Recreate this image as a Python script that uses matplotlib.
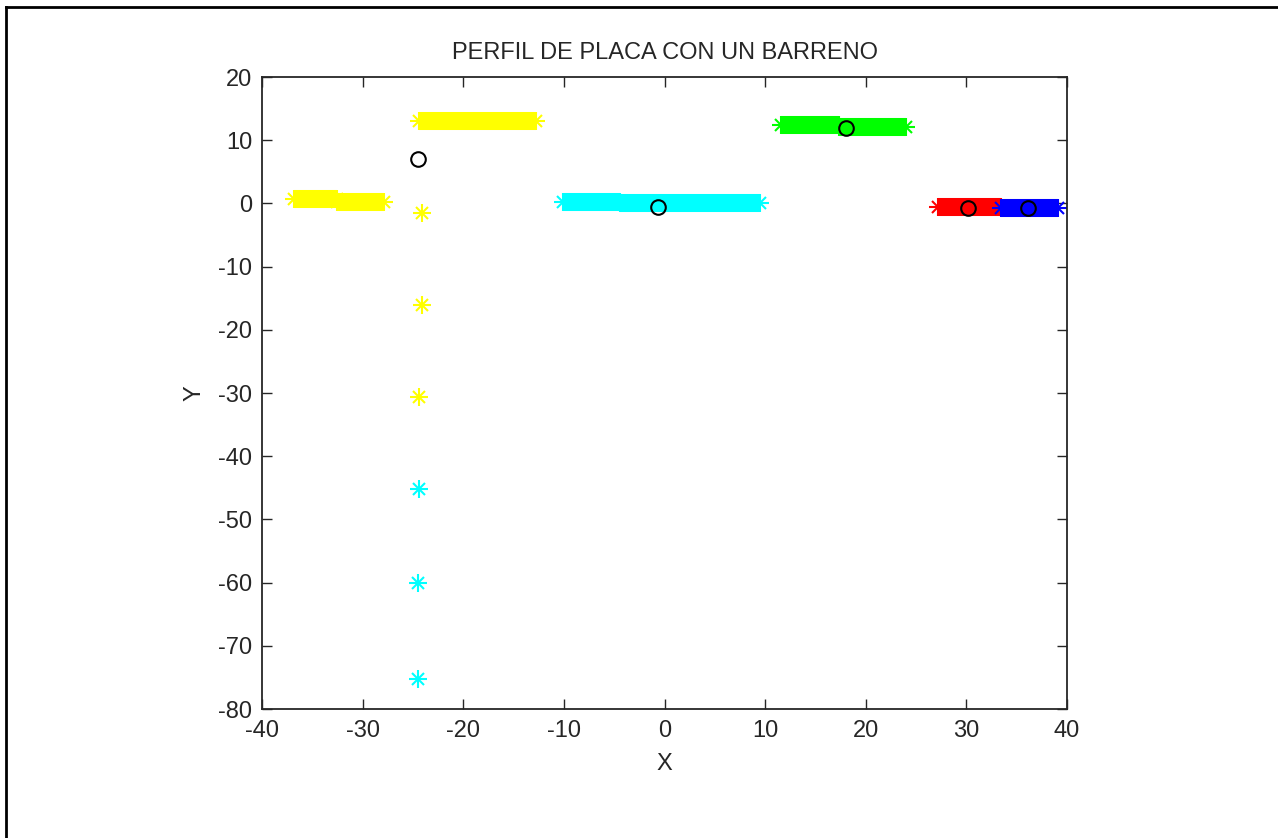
import matplotlib.pyplot as plt
from matplotlib.lines import Line2D

plt.rcParams['font.family'] = ['Liberation Sans', 'DejaVu Sans']
plt.rcParams['axes.unicode_minus'] = False

# strips of dense markers: (x start, x end, y, colour)
strip_x0 = [-36.8, -32.5, -24.4, -10.1, -4.4, 11.6, 17.3, 27.2, 33.4]
strip_x1 = [-32.5, -27.9, -12.8, -4.4, 9.5, 17.3, 24.0, 33.4, 39.1]
strip_y = [0.7, 0.3, 13.0, 0.3, 0.0, 12.4, 12.1, -0.6, -0.8]
strip_c = ['#ffff00', '#ffff00', '#ffff00', '#00ffff', '#00ffff',
           '#00ff00', '#00ff00', '#ff0000', '#0000ff']

# single points along the bore
star_x = [-24.1, -24.1, -24.4, -24.4, -24.5, -24.5]
star_y = [-1.5, -16.1, -30.6, -45.2, -60.0, -75.3]
star_c = ['#ffff00', '#ffff00', '#ffff00', '#00ffff', '#00ffff', '#00ffff']

# black circles (centroids)
circ_x = [-24.5, -0.6, 18.0, 30.2, 36.1]
circ_y = [7.0, -0.5, 12.0, -0.7, -0.8]

fig = plt.figure(figsize=(12.78, 8.38), dpi=100)
ax = fig.add_axes([262 / 1278, (838 - 709) / 838, 805 / 1278, 632 / 838])


def star(x, y, c):
    ax.plot(x, y, linestyle='none', marker='+', ms=13, mew=1.5, color=c)
    ax.plot(x, y, linestyle='none', marker='x', ms=8, mew=1.5, color=c)


for x0, x1, y, c in zip(strip_x0, strip_x1, strip_y, strip_c):
    ax.plot([x0, x1], [y, y], color=c, lw=13, solid_capstyle='butt')
    star([x0, x1], [y, y], c)

for x, y, c in zip(star_x, star_y, star_c):
    star(x, y, c)

ax.plot(circ_x, circ_y, linestyle='none', marker='o', ms=10.5, mfc='none',
        mec='black', mew=1.5)

ax.set_xlim(-40, 40)
ax.set_ylim(-80, 20)
ax.set_xticks(range(-40, 41, 10))
ax.set_yticks(range(-80, 21, 10))
ax.tick_params(direction='in', length=7, width=1, top=True, right=True,
               labelsize=17, colors='#262626')
ax.tick_params(axis='x', pad=8)
ax.tick_params(axis='y', pad=7)
for s in ax.spines.values():
    s.set_linewidth(1.3)
    s.set_color('#262626')

ax.set_title('PERFIL DE PLACA CON UN BARRENO', fontsize=17, color='#262626', pad=13)
ax.set_xlabel('X', fontsize=17, color='#262626', labelpad=8)
ax.set_ylabel('Y', fontsize=17, color='#262626', labelpad=9)

# figure frame on left and top
fig.add_artist(Line2D([6 / 1278, 6 / 1278], [0, 1 - 7 / 838], transform=fig.transFigure,
                      color='black', lw=2))
fig.add_artist(Line2D([6 / 1278, 1], [1 - 7 / 838, 1 - 7 / 838], transform=fig.transFigure,
                      color='black', lw=2))

fig.savefig('out.png', dpi=100)
